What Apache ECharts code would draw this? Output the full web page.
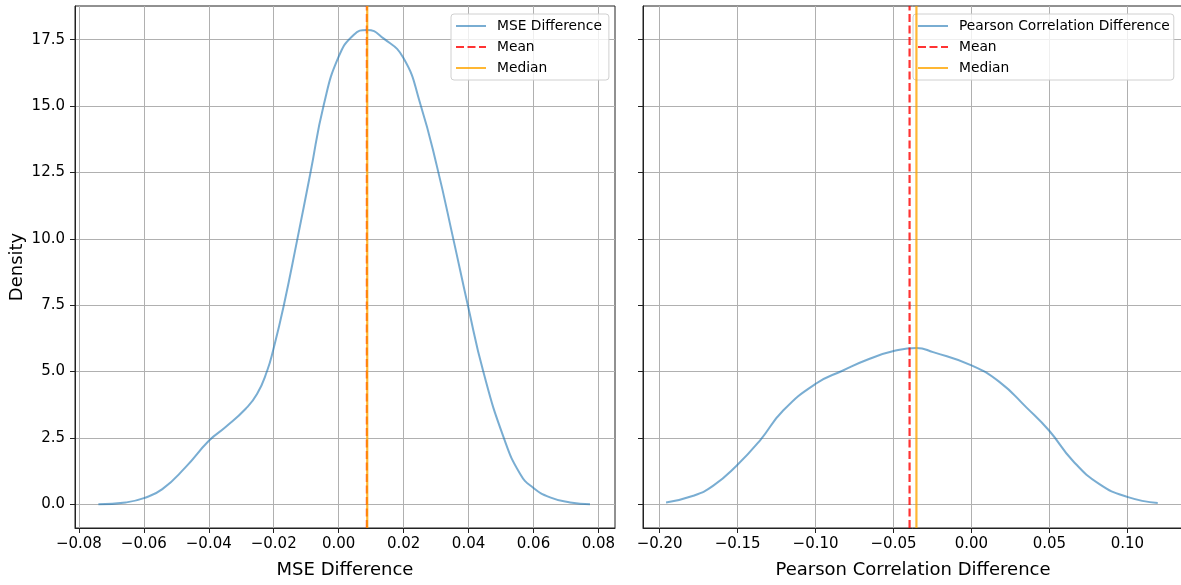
<!DOCTYPE html>
<html>
<head>
<meta charset="utf-8">
<script src="https://cdn.jsdelivr.net/npm/echarts@6/dist/echarts.min.js"></script>
<style>
html,body{margin:0;padding:0;background:#fff;}
#chart{width:1181px;height:585px;}
</style>
</head>
<body>
<div id="chart"></div>
<script>
// ---- data ----
const mseX = [-0.0740, -0.0656, -0.0600, -0.0543, -0.0472, -0.0399, -0.0349, -0.0287, -0.0251, -0.0220, -0.0202, -0.0169, -0.0128, -0.0087, -0.0046, 0.0000, 0.0046, 0.0087, 0.0138, 0.0200, 0.0251, 0.0303, 0.0354, 0.0398, 0.0446, 0.0508, 0.0559, 0.0598, 0.0651, 0.0713, 0.0774];
const mseY = [0.00, 0.07, 0.23, 0.57, 1.39, 2.40, 2.90, 3.59, 4.16, 5.04, 5.79, 7.49, 9.94, 12.48, 15.04, 16.86, 17.68, 17.87, 17.55, 16.80, 15.10, 12.71, 9.94, 7.49, 4.97, 2.52, 1.14, 0.63, 0.26, 0.07, 0.00];
const pearsonX = [-0.1959, -0.1784, -0.1656, -0.1507, -0.1357, -0.1208, -0.0999, -0.0824, -0.0653, -0.0499, -0.0352, -0.0246, 0.0000, 0.0181, 0.0352, 0.0499, 0.0650, 0.0821, 0.0999, 0.1195];
const pearsonY = [0.07, 0.32, 0.70, 1.45, 2.40, 3.53, 4.54, 5.04, 5.48, 5.77, 5.89, 5.73, 5.23, 4.60, 3.65, 2.77, 1.64, 0.76, 0.28, 0.05];
const mseMean = 0.0087;
const mseMedian = 0.0088;
const pearsonMean = -0.0397;
const pearsonMedian = -0.0353;
const mseTicks = [-0.08, -0.06, -0.04, -0.02, 0.00, 0.02, 0.04, 0.06, 0.08];
const pearsonTicks = [-0.20, -0.15, -0.10, -0.05, 0.00, 0.05, 0.10];
const densityTicks = [0, 2.5, 5, 7.5, 10, 12.5, 15, 17.5];
const mseRange = [-0.0812, 0.0851];
const pearsonRange = [-0.2107, 0.1357];
const densityRange = [-0.894, 18.77];
const seriesNames = ['MSE Difference', 'Pearson Correlation Difference', 'Mean', 'Median'];
const xTitles = ['MSE Difference', 'Pearson Correlation Difference'];
const yTitle = 'Density';

// ---- build chart ----
const FONT = 'DejaVu Sans';
const minus = s => String(s).replace('-', '\u2212');
const zip = (a, b) => a.map((v, i) => [v, b[i]]);
const vline = v => [[v, densityRange[0]], [v, densityRange[1]]];

const kdeColor = 'rgba(31,119,180,0.6)';
const meanColor = 'rgba(255,0,0,0.8)';
const medColor = 'rgba(255,165,0,0.8)';

function xAxisCfg(idx, range, ticks, title) {
  return {
    type: 'value', gridIndex: idx, min: range[0], max: range[1],
    name: title, nameLocation: 'middle', nameGap: 33,
    nameTextStyle: {fontFamily: FONT, fontSize: 18, color: '#000'},
    axisLine: {show: true, onZero: false, lineStyle: {color: '#222', width: 1}},
    axisTick: {show: true, inside: false, length: 5, customValues: ticks, lineStyle: {color: '#222', width: 1}},
    axisLabel: {show: true, margin: 9, customValues: ticks, fontFamily: FONT, fontSize: 15, color: '#000',
      formatter: v => minus(v.toFixed(2))},
    splitLine: {show: true, lineStyle: {color: '#b0b0b0', width: 1}}
  };
}
function yAxisCfg(idx, showLabels) {
  return {
    type: 'value', gridIndex: idx, min: densityRange[0], max: densityRange[1],
    name: showLabels ? yTitle : '', nameLocation: 'middle', nameGap: 49,
    nameTextStyle: {fontFamily: FONT, fontSize: 18, color: '#000'},
    axisLine: {show: true, onZero: false, lineStyle: {color: '#222', width: 1}},
    axisTick: {show: true, inside: false, length: 5, customValues: densityTicks, lineStyle: {color: '#222', width: 1}},
    axisLabel: {show: showLabels, margin: 10, customValues: densityTicks, fontFamily: FONT, fontSize: 15, color: '#000',
      formatter: v => minus(v.toFixed(1))},
    splitLine: {show: true, lineStyle: {color: '#b0b0b0', width: 1}}
  };
}
function legendCfg(left, names, padding) {
  return {
    data: names.map(n => ({name: n})),
    orient: 'vertical', left: left, top: 14,
    itemWidth: 30, itemHeight: 14, itemGap: 7,
    padding: padding,
    itemStyle: {opacity: 0},
    backgroundColor: 'rgba(255,255,255,0.8)', borderColor: '#d0d0d0', borderWidth: 1, borderRadius: 3,
    textStyle: {fontFamily: FONT, fontSize: 13.8, color: '#000', padding: [0, 0, 0, 6]},
    selectedMode: false
  };
}
function lineSeries(name, idx, data, color, width, type, z) {
  return {
    name: name, type: 'line', xAxisIndex: idx, yAxisIndex: idx,
    data: data, symbol: 'none', showSymbol: false,
    smooth: type === 'kde' ? 0.5 : false,
    lineStyle: {color: color, width: width, type: type === 'dash' ? [8, 3.5] : 'solid'},
    itemStyle: {color: color},
    z: z, silent: true, clip: true
  };
}

const gridBase = {top: 6, height: 522, width: 540, outerBoundsMode: 'none',
  containLabel: false, show: true, borderColor: '#222', borderWidth: 1, backgroundColor: 'transparent'};

const chart = echarts.init(document.getElementById('chart'), null, {renderer: 'canvas'});
chart.setOption({
  animation: false,
  backgroundColor: '#fff',
  grid: [
    Object.assign({}, gridBase, {left: 75}),
    Object.assign({}, gridBase, {left: 643})
  ],
  xAxis: [xAxisCfg(0, mseRange, mseTicks, xTitles[0]), xAxisCfg(1, pearsonRange, pearsonTicks, xTitles[1])],
  yAxis: [yAxisCfg(0, true), yAxisCfg(1, false)],
  legend: [
    legendCfg(451, [seriesNames[0], seriesNames[2], seriesNames[3]], [5, 7, 5, 4]),
    legendCfg(913, [seriesNames[1], seriesNames[2], seriesNames[3]], [5, 4, 5, 4])
  ],
  series: [
    lineSeries(seriesNames[0], 0, zip(mseX, mseY), kdeColor, 2, 'kde', 3),
    lineSeries(seriesNames[2], 0, vline(mseMean), meanColor, 2.2, 'dash', 4),
    lineSeries(seriesNames[3], 0, vline(mseMedian), medColor, 2.2, 'solid', 5),
    lineSeries(seriesNames[1], 1, zip(pearsonX, pearsonY), kdeColor, 2, 'kde', 3),
    lineSeries(seriesNames[2], 1, vline(pearsonMean), meanColor, 2.2, 'dash', 4),
    lineSeries(seriesNames[3], 1, vline(pearsonMedian), medColor, 2.2, 'solid', 5)
  ]
});
</script>
</body>
</html>
